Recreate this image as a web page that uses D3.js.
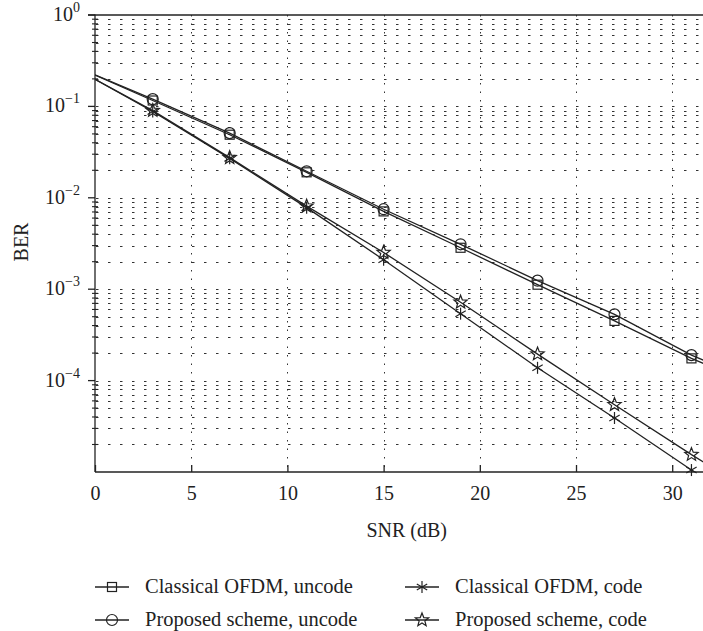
<!DOCTYPE html>
<html>
<head>
<meta charset="utf-8">
<script src="https://cdn.jsdelivr.net/npm/d3@7"></script>
<style>
  body { margin: 0; background: #fff; }
  text { font-family: "Liberation Serif", "DejaVu Serif", serif; fill: #222; }
</style>
</head>
<body>
<div id="chart"></div>
<script>
// SNR points of the curves (markers are drawn every 4 dB, from 3 to 31)
const snr = [0, 3, 7, 11, 15, 19, 23, 27, 31, 32];
const markerSnr = [3, 7, 11, 15, 19, 23, 27, 31];

// BER values
const classicalUncode = [0.22, 0.116, 0.049, 0.0190, 0.0071, 0.00284, 0.00112, 0.00045, 0.000175, 0.000143];
const proposedUncode  = [0.222, 0.120, 0.051, 0.0195, 0.0075, 0.0031, 0.00124, 0.00053, 0.00019, 0.000155];
const classicalCode   = [0.198, 0.088, 0.027, 0.0078, 0.0021, 0.00054, 0.000138, 0.000039, 0.0000105, 0.0000075];
const proposedCode    = [0.198, 0.090, 0.0275, 0.0081, 0.00252, 0.00072, 0.000195, 0.0000545, 0.0000155, 0.0000115];

const seriesNames = ["Classical OFDM, uncode", "Proposed scheme, uncode", "Classical OFDM, code", "Proposed scheme, code"];
const seriesMarkers = ["square", "circle", "asterisk", "star"];

const xTicks = [0, 5, 10, 15, 20, 25, 30];
const yTicks = [1, 1e-1, 1e-2, 1e-3, 1e-4];
const yTickExp = ["0", "\u22121", "\u22122", "\u22123", "\u22124"];

const W = 703, H = 631;
const margin = {top: 15, right: 0, bottom: 159, left: 95};
const width = W - margin.left - margin.right,
      height = H - margin.top - margin.bottom;

const ink = "#222";

const svg = d3.select("#chart")
  .append("svg")
  .attr("width", W)
  .attr("height", H);

const g = svg.append("g")
  .attr("transform", `translate(${margin.left},${margin.top})`);

const x = d3.scaleLinear().domain([0, 31.6]).range([0, width]);
const y = d3.scaleLog().domain([1e-5, 1]).range([height, 0]);

g.append("clipPath").attr("id", "plotClip")
  .append("rect").attr("x", 0).attr("y", 0).attr("width", width).attr("height", height);

//格線 horizontal (every minor value)
let minorVals = [];
for (let d = -5; d < 0; d++) {
  for (let m = 1; m <= 9; m++) {
    let v = m * Math.pow(10, d);
    if (d === -5 && m === 1) continue;
    minorVals.push(v);
  }
}
g.append("g")
  .selectAll("line")
  .data(minorVals)
  .join("line")
  .attr("x1", 1).attr("x2", width)
  .attr("y1", d => Math.round(y(d)) + 0.5)
  .attr("y2", d => Math.round(y(d)) + 0.5)
  .attr("stroke", "#333")
  .attr("stroke-width", 1)
  .attr("stroke-dasharray", "2.5,9.5");

//格線 vertical
g.append("g")
  .selectAll("line")
  .data(xTicks.slice(1))
  .join("line")
  .attr("x1", d => Math.round(x(d)) + 0.5)
  .attr("x2", d => Math.round(x(d)) + 0.5)
  .attr("y1", 0).attr("y2", height)
  .attr("stroke", "#333")
  .attr("stroke-width", 1)
  .attr("stroke-dasharray", "1.5,7");

// axes frame: left, bottom, top
const frame = g.append("g").attr("stroke", ink).attr("stroke-width", 1.3).attr("fill", "none");
frame.append("line").attr("x1", 0).attr("x2", 0).attr("y1", -0.6).attr("y2", height);
frame.append("line").attr("x1", 0).attr("x2", width).attr("y1", height).attr("y2", height);
frame.append("line").attr("x1", -7).attr("x2", width).attr("y1", 0).attr("y2", 0);

// x axis ticks (inside) + labels
const xAxis = d3.axisBottom(x).tickValues(xTicks).tickSizeInner(-7).tickSizeOuter(0).tickPadding(14);
g.append("g")
  .attr("transform", `translate(0,${height})`)
  .call(xAxis)
  .call(a => a.select(".domain").remove())
  .call(a => a.selectAll("line").attr("stroke", ink).attr("stroke-width", 1.3))
  .call(a => a.selectAll("text").attr("font-size", 20).attr("font-family", "Liberation Serif").attr("fill", ink));

// y axis minor ticks (both sides)
g.append("g")
  .selectAll("line")
  .data(minorVals.filter(v => !yTicks.includes(v)))
  .join("line")
  .attr("x1", -3).attr("x2", 3)
  .attr("y1", d => y(d)).attr("y2", d => y(d))
  .attr("stroke", ink).attr("stroke-width", 1.1);

// y major ticks (outside) and 10^n labels
g.append("g")
  .selectAll("line")
  .data(yTicks)
  .join("line")
  .attr("x1", -7).attr("x2", 0)
  .attr("y1", d => y(d)).attr("y2", d => y(d))
  .attr("stroke", ink).attr("stroke-width", 1.3);

const ylab = g.append("g")
  .selectAll("text")
  .data(yTicks)
  .join("text")
  .attr("x", -15)
  .attr("y", d => y(d) + 6)
  .attr("text-anchor", "end")
  .attr("font-size", 20);
ylab.append("tspan").text("10");
ylab.append("tspan")
  .attr("dy", -9)
  .attr("font-size", 14)
  .text((d, i) => yTickExp[i]);

// axis titles
svg.append("text")
  .attr("x", margin.left + x(16.2))
  .attr("y", 537)
  .attr("text-anchor", "middle")
  .attr("font-size", 20)
  .text("SNR (dB)");

svg.append("text")
  .attr("transform", `translate(28,242) rotate(-90)`)
  .attr("text-anchor", "middle")
  .attr("font-size", 20)
  .text("BER");

// marker shapes
const drawMarker = (sel, type) => {
  if (type === "square") {
    sel.append("rect").attr("x", -4.5).attr("y", -4.5).attr("width", 9).attr("height", 9);
  } else if (type === "circle") {
    sel.append("circle").attr("r", 5.5);
  } else if (type === "asterisk") {
    const r = 6;
    [90, 30, 150].forEach(a => {
      const rad = a * Math.PI / 180;
      sel.append("line")
        .attr("x1", -r * Math.cos(rad)).attr("y1", -r * Math.sin(rad))
        .attr("x2", r * Math.cos(rad)).attr("y2", r * Math.sin(rad));
    });
  } else if (type === "star") {
    let pts = [];
    for (let k = 0; k < 10; k++) {
      const rr = k % 2 === 0 ? 7 : 3;
      const ang = -Math.PI / 2 + k * Math.PI / 5;
      pts.push([rr * Math.cos(ang), rr * Math.sin(ang)]);
    }
    sel.append("path").attr("d", "M" + pts.map(p => p.join(",")).join("L") + "Z");
  }
};

const allSeries = [classicalUncode, proposedUncode, classicalCode, proposedCode];

const line = d3.line()
  .x((d, i) => x(snr[i]))
  .y(d => y(d));

const plot = g.append("g").attr("clip-path", "url(#plotClip)");

allSeries.forEach((vals, s) => {
  plot.append("path")
    .datum(vals)
    .attr("d", line)
    .attr("fill", "none")
    .attr("stroke", ink)
    .attr("stroke-width", 1.3);
});

allSeries.forEach((vals, s) => {
  snr.forEach((sv, i) => {
    if (!markerSnr.includes(sv)) return;
    const m = g.append("g")
      .attr("transform", `translate(${x(sv)},${y(vals[i])})`)
      .attr("fill", "none")
      .attr("stroke", ink)
      .attr("stroke-width", 1.2);
    drawMarker(m, seriesMarkers[s]);
  });
});

// legend (2 x 2)
const legendPos = [[95, 587], [95, 620], [405, 587], [405, 620]];
seriesNames.forEach((name, s) => {
  const [lx, ly] = legendPos[s];
  const lg = svg.append("g").attr("transform", `translate(${lx},${ly})`);
  lg.append("line")
    .attr("x1", 0).attr("x2", 34).attr("y1", 0).attr("y2", 0)
    .attr("stroke", ink).attr("stroke-width", 1.3);
  const m = lg.append("g")
    .attr("transform", "translate(17,0)")
    .attr("fill", "none").attr("stroke", ink).attr("stroke-width", 1.2);
  drawMarker(m, seriesMarkers[s]);
  lg.append("text")
    .attr("x", 50)
    .attr("y", 6)
    .attr("font-size", 20.5)
    .text(name);
});
</script>
</body>
</html>
